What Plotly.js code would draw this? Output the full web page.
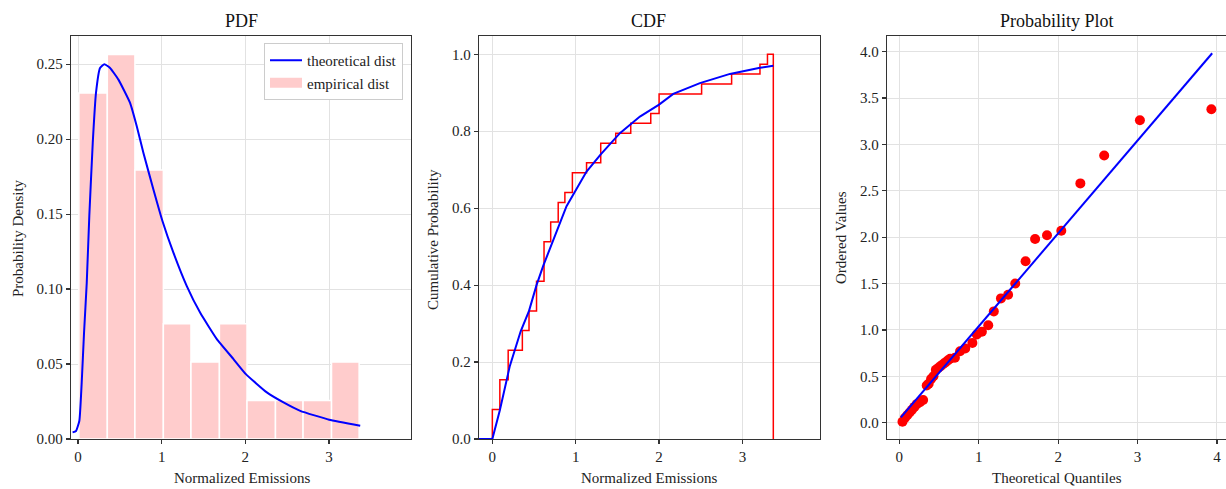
<!DOCTYPE html>
<html>
<head>
<meta charset="utf-8">
<script src="https://cdn.plot.ly/plotly-3.0.1.min.js"></script>
<style>html,body{margin:0;padding:0;background:#fff;}#chart{width:1226px;height:489px;}</style>
</head>
<body>
<div id="chart"></div>
<script>
// ---------- PDF panel ----------
const histEdges   = [0.01, 0.35, 0.68, 1.02, 1.35, 1.69, 2.02, 2.36, 2.69, 3.03, 3.36];
const histHeights = [0.2308, 0.2564, 0.1795, 0.0769, 0.0513, 0.0769, 0.0256, 0.0256, 0.0256, 0.0513];
const pdfX = [-0.065, -0.024, 0.016, 0.044, 0.072, 0.104, 0.135, 0.176, 0.215, 0.263, 0.315, 0.383, 0.483, 0.622, 0.702, 0.781, 0.901, 1.009, 1.140, 1.300, 1.459, 1.659, 1.858, 2.006, 2.257, 2.456, 2.656, 3.002, 3.373];
const pdfY = [0.0044, 0.0053, 0.0122, 0.0377, 0.071, 0.104, 0.149, 0.1975, 0.231, 0.2475, 0.250, 0.2475, 0.2397, 0.2242, 0.2086, 0.191, 0.1664, 0.1454, 0.1243, 0.102, 0.0843, 0.0666, 0.0533, 0.0433, 0.0311, 0.0244, 0.0188, 0.0129, 0.0089];

// ---------- CDF panel ----------
const ecdfEdges  = [0.0, 0.09, 0.19, 0.36, 0.44, 0.53, 0.62, 0.70, 0.79, 0.87, 0.96, 1.13, 1.30, 1.48, 1.66, 1.90, 2.00, 2.51, 2.87, 3.21, 3.30, 3.37];
const ecdfLevels = [0.077, 0.154, 0.231, 0.282, 0.333, 0.410, 0.513, 0.564, 0.615, 0.641, 0.692, 0.718, 0.769, 0.795, 0.821, 0.846, 0.897, 0.923, 0.949, 0.974, 1.0];
const cdfX = [-0.2, 0.0, 0.09, 0.21, 0.34, 0.44, 0.53, 0.61, 0.89, 1.13, 1.30, 1.53, 1.77, 2.00, 2.17, 2.49, 2.85, 3.21, 3.37];
const cdfY = [0.0, 0.0, 0.075, 0.19, 0.28, 0.333, 0.40, 0.45, 0.605, 0.695, 0.74, 0.795, 0.838, 0.869, 0.897, 0.925, 0.949, 0.965, 0.970];

// ---------- Probability plot ----------
const quantiles = [0.04, 0.07, 0.10, 0.13, 0.16, 0.19, 0.22, 0.26, 0.30, 0.345, 0.37, 0.40, 0.43, 0.46, 0.49, 0.52, 0.55, 0.58, 0.61, 0.64, 0.70, 0.765, 0.83, 0.92, 0.976, 1.04, 1.12, 1.19, 1.28, 1.37, 1.46, 1.59, 1.71, 1.86, 2.04, 2.28, 2.58, 3.03, 3.93];
const ordered   = [0.01, 0.05, 0.08, 0.11, 0.14, 0.17, 0.20, 0.22, 0.245, 0.40, 0.42, 0.47, 0.50, 0.57, 0.59, 0.61, 0.63, 0.65, 0.67, 0.69, 0.70, 0.77, 0.80, 0.86, 0.95, 0.98, 1.05, 1.20, 1.34, 1.38, 1.50, 1.74, 1.98, 2.02, 2.07, 2.58, 2.88, 3.26, 3.38];
const fitLineX = [0.02, 3.94];
const fitLineY = [0.058, 3.983];

// ---------- build ----------
const barX = [], barW = [];
for (let i = 0; i < histHeights.length; i++) {
  barX.push((histEdges[i] + histEdges[i + 1]) / 2);
  barW.push(histEdges[i + 1] - histEdges[i]);
}
const stepX = [ecdfEdges[0]], stepY = [0];
for (let i = 0; i < ecdfLevels.length; i++) {
  stepX.push(ecdfEdges[i], ecdfEdges[i + 1]);
  stepY.push(ecdfLevels[i], ecdfLevels[i]);
}
stepX.push(ecdfEdges[ecdfEdges.length - 1]); stepY.push(0);

const FONT = 'Liberation Serif, Times New Roman, serif';
const W = 1226, H = 489;
const px = v => v / W, py = v => 1 - v / H;
const PINK = 'rgb(255,204,204)';

const traces = [
  {type: 'bar', x: barX, y: histHeights, width: barW, name: 'empirical dist', showlegend: false,
   marker: {color: PINK, line: {color: '#ffffff', width: 1.5}},
   xaxis: 'x', yaxis: 'y'},
  {type: 'scatter', mode: 'lines', x: pdfX, y: pdfY, name: 'theoretical dist',
   line: {color: '#0000ff', width: 2, shape: 'spline', smoothing: 0.4},
   xaxis: 'x', yaxis: 'y', legendrank: 1},
  // legend swatch for the histogram (wide pink patch like the reference)
  {type: 'scatter', mode: 'lines', x: [null], y: [null], name: 'empirical dist',
   line: {color: PINK, width: 10}, xaxis: 'x', yaxis: 'y', legendrank: 2},
  {type: 'scatter', mode: 'lines', x: stepX, y: stepY, showlegend: false,
   line: {color: '#ff0000', width: 1.5}, xaxis: 'x2', yaxis: 'y2'},
  {type: 'scatter', mode: 'lines', x: cdfX, y: cdfY, showlegend: false,
   line: {color: '#0000ff', width: 2}, xaxis: 'x2', yaxis: 'y2'},
  {type: 'scatter', mode: 'markers', x: quantiles, y: ordered, showlegend: false,
   marker: {color: '#ff0000', size: 10}, xaxis: 'x3', yaxis: 'y3'},
  {type: 'scatter', mode: 'lines', x: fitLineX, y: fitLineY, showlegend: false,
   line: {color: '#0000ff', width: 2}, xaxis: 'x3', yaxis: 'y3'}
];

const axBase = {
  showline: true, mirror: true, linecolor: '#333', linewidth: 1.2,
  ticks: 'outside', ticklen: 4, tickcolor: '#333', tickwidth: 1.2,
  showgrid: true, gridcolor: '#e2e2e2', gridwidth: 1, zeroline: false,
  tickfont: {family: FONT, size: 15, color: '#222'}, fixedrange: true
};
const yDom = [1 - 439 / H, 1 - 36 / H];

function ann(text, x, y, size, angle) {
  return {text: text, x: px(x), y: py(y), xref: 'paper', yref: 'paper', showarrow: false,
          xanchor: 'center', yanchor: 'middle', textangle: angle || 0,
          font: {family: FONT, size: size, color: size > 16 ? '#111' : '#222'}};
}

const layout = {
  width: W, height: H, margin: {l: 0, r: 0, t: 0, b: 0},
  paper_bgcolor: '#fff', plot_bgcolor: '#fff', bargap: 0,
  font: {family: FONT, size: 15, color: '#222'},
  xaxis: Object.assign({}, axBase, {domain: [px(71), px(411)], range: [-0.084, 3.98], dtick: 1, anchor: 'y'}),
  yaxis: Object.assign({}, axBase, {domain: yDom, range: [0, 0.2688], dtick: 0.05, tickformat: '.2f', anchor: 'x'}),
  xaxis2: Object.assign({}, axBase, {domain: [px(479), px(820)], range: [-0.16, 3.93], dtick: 1, anchor: 'y2'}),
  yaxis2: Object.assign({}, axBase, {domain: yDom, range: [0, 1.0475], dtick: 0.2, tickformat: '.1f', anchor: 'x2'}),
  xaxis3: Object.assign({}, axBase, {domain: [px(887), 1], range: [-0.155, 4.114], dtick: 1, anchor: 'y3'}),
  yaxis3: Object.assign({}, axBase, {domain: yDom, range: [-0.176, 4.169], dtick: 0.5, tickformat: '.1f', anchor: 'x3'}),
  legend: {x: px(403), xanchor: 'right', y: py(43), yanchor: 'top',
           bgcolor: '#fff', bordercolor: '#cccccc', borderwidth: 1,
           font: {family: FONT, size: 15, color: '#222'}, itemwidth: 32, tracegroupgap: 0},
  annotations: [
    ann('PDF', 241, 21, 18),
    ann('CDF', 648, 21, 18),
    ann('Probability Plot', 1057, 21, 18),
    ann('Normalized Emissions', 242, 478, 15),
    ann('Normalized Emissions', 649, 478, 15),
    ann('Theoretical Quantiles', 1057, 478, 15),
    ann('Probability Density', 18, 238, 15, -90),
    ann('Cumulative Probability', 433, 240, 15, -90),
    ann('Ordered Values', 841, 238, 15, -90)
  ]
};

Plotly.newPlot('chart', traces, layout, {displayModeBar: false, staticPlot: true});
</script>
</body>
</html>
